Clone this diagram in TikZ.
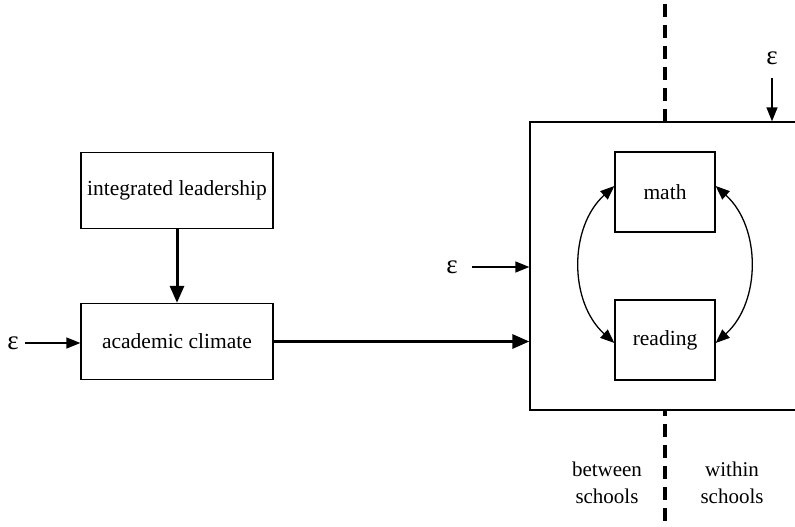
\documentclass[tikz,border=0pt]{standalone}
\usepackage{fontspec}
\setmainfont{Liberation Serif}
\usetikzlibrary{arrows.meta}
\tikzset{
  box/.style={draw, line width=1.3pt, fill=white, minimum width=192pt, minimum height=76pt, inner sep=0pt, font=\fontsize{21.5}{24}\selectfont},
  smallbox/.style={draw, line width=1.3pt, fill=white, minimum width=100pt, minimum height=80pt, inner sep=0pt, font=\fontsize{21.5}{24}\selectfont},
  bigarrow/.style={line width=3pt, -{Triangle[length=17pt,width=14pt]}},
  thinarrow/.style={line width=1.3pt, -{Triangle[length=14pt,width=11pt]}},
  corr/.style={line width=1.3pt, {Triangle[length=14pt,width=11pt]}-{Triangle[length=14pt,width=11pt]}},
  eps/.style={font=\fontsize{27}{28}\selectfont, inner sep=0pt},
  lbl/.style={font=\fontsize{21}{27}\selectfont, align=center, inner sep=0pt}
}
\begin{document}
\begin{tikzpicture}[x=1pt,y=-1pt]
\useasboundingbox (0,0) rectangle (795,527);
\clip (0,0) rectangle (795,527);
\fill[white] (0,0) rectangle (795,527);
% dashed divider
\draw[line width=4pt, dash pattern=on 13pt off 8pt] (665,4) -- (665,527);
% big box
\node[draw, line width=1.3pt, fill=white, minimum width=272pt, minimum height=288pt, inner sep=0pt] (big) at (666,266) {};
% boxes
\node[box] (lead) at (177,190.5) {integrated leadership};
\node[box] (clim) at (177,341.5) {academic climate};
\node[smallbox] (math) at (665,192) {math};
\node[smallbox] (read) at (665,340) {reading};
% epsilons
\node[eps] (e1) at (13,343) {ε};
\node[eps] (e2) at (452,267) {ε};
\node[eps] (e3) at (772,58) {ε};
\coordinate (e1s) at (25,343);
\coordinate (e2s) at (472,267);
\coordinate (e3s) at (772,78);
% arrows
\draw[bigarrow] (lead.south) -- (clim.north);
\draw[bigarrow] (clim.east) -- (clim.east -| big.west);
\draw[thinarrow] (e1s) -- (clim.west |- e1s);
\draw[thinarrow] (e2s) -- (big.west |- e2s);
\draw[thinarrow] (e3s) -- (e3s |- big.north);
% correlations
\draw[corr] ([yshift=6pt]math.west) to[bend right=48] ([yshift=-3pt]read.west);
\draw[corr] ([yshift=6pt]math.east) to[bend left=48] ([yshift=-3pt]read.east);
% labels
\node[lbl] (bs) at (607,483) {between\\schools};
\node[lbl] (ws) at (732,483) {within\\schools};
\end{tikzpicture}
\end{document}
